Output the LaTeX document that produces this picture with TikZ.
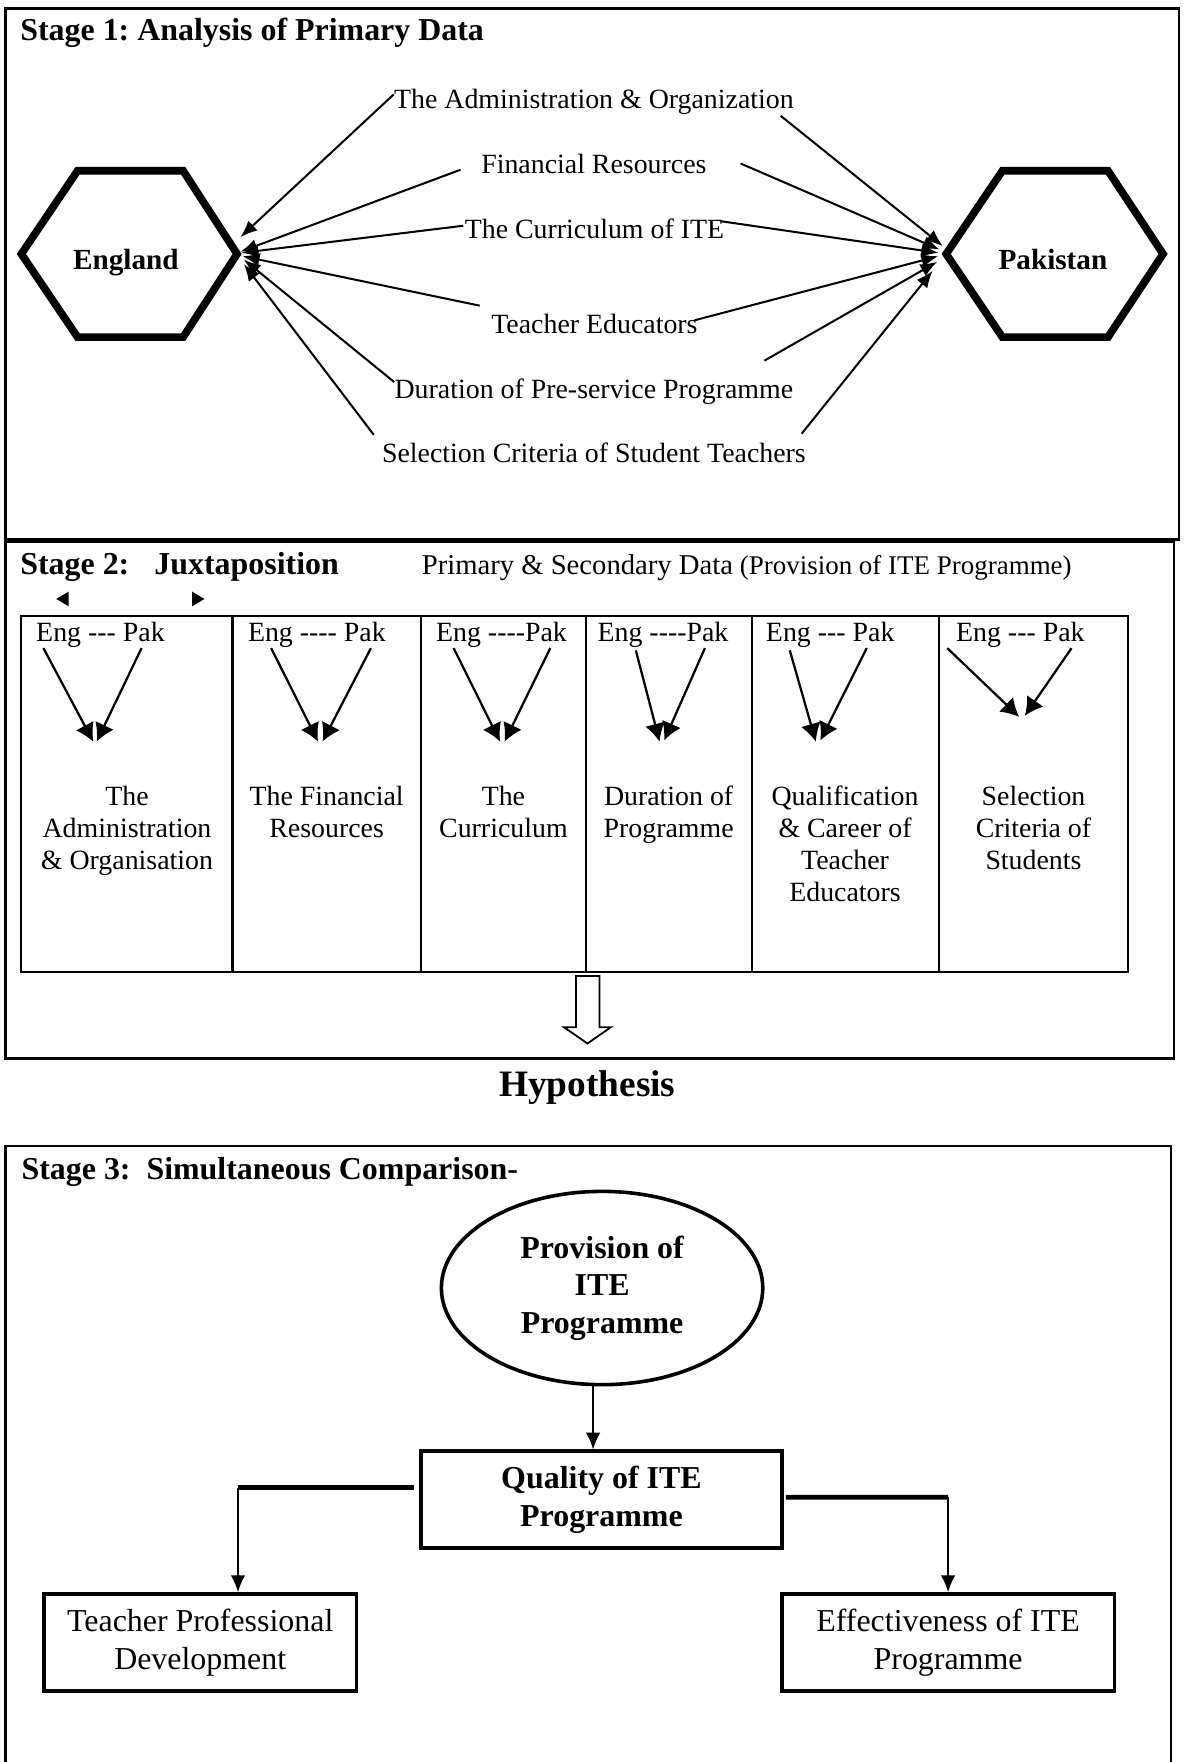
\documentclass[tikz,border=0pt]{standalone}
\usepackage{fontspec}
\setmainfont{Liberation Serif}
\usetikzlibrary{arrows.meta,shapes.geometric,calc}
\newcommand{\lblfont}{\fontsize{12.4}{14.25}\selectfont}
\newcommand{\hdfont}{\fontsize{14.2}{16.75}\selectfont\bfseries}
\begin{document}
\frenchspacing
\begin{tikzpicture}[x=0.5pt,y=-0.5pt,
  stageframe/.style={draw=black,line width=1pt},
  hexa/.style={draw=black,line width=3.4pt,line join=miter,miter limit=10},
  heading/.style={font=\hdfont,inner sep=0pt,anchor=base west},
  lbl/.style={font=\lblfont,inner sep=0pt,anchor=base},
  country/.style={font=\fontsize{13}{15}\selectfont\bfseries,inner sep=0pt,anchor=base},
  srcarrow/.style={line width=0.9pt,-{Latex[length=7.5pt,width=6pt]}},
  vpair/.style={line width=1pt,-{Latex[length=8pt,width=9pt]}},
  cellhead/.style={font=\lblfont,inner sep=0pt,anchor=base},
  celltext/.style={font=\lblfont,inner sep=0pt,anchor=north,align=center},
  rbox/.style={draw=black,line width=1.6pt,inner sep=0pt,align=center},
  dnarrow/.style={line width=0.7pt,-{Latex[length=7.5pt,width=6.5pt]}},
  thickbar/.style={line width=2.2pt},
]
\useasboundingbox (0,0) rectangle (1054,1568);

% ---------------- Stage 1 ----------------
\draw[stageframe] (5,7.5) rectangle (1049,480);
\node[heading] (s1) at (17.7,36) {Stage 1: Analysis of Primary Data};

\draw[hexa] (19,226) -- (69,152) -- (163,152) -- (211,226) -- (163,300) -- (69,300) -- cycle;
\draw[hexa] (842,226) -- (892,152) -- (986,152) -- (1035,226) -- (986,300) -- (892,300) -- cycle;
\node[country] (eng) at (112,240) {England};
\node[country] (pak) at (937,240) {Pakistan};
\coordinate (engtip) at (211,226);
\coordinate (paktip) at (842,226);

\node[lbl] (adm) at (528.5,97) {The Administration \& Organization};
\node[lbl] (fin) at (528.5,154) {Financial Resources};
\node[lbl] (cur) at (529,212) {The Curriculum of ITE};
\node[lbl] (ted) at (529,297) {Teacher Educators};
\node[lbl] (dur) at (528.5,355) {Duration of Pre-service Programme};
\node[lbl] (sel) at (528.5,412) {Selection Criteria of Student Teachers};

% arrows towards England
\draw[srcarrow] ($(adm.west)+(0,-7)$) -- ($(engtip)+(3,-15)$);
\draw[srcarrow] ($(fin.west)+(-18,5.5)$) -- ($(engtip)+(3,-2)$);
\draw[srcarrow] ($(cur.west)+(-1,-2.5)$) -- ($(engtip)+(4,-1)$);
\draw[srcarrow] ($(ted.west)+(-10,-16.5)$) -- ($(engtip)+(5,2)$);
\draw[srcarrow] ($(dur.west)+(0,-9)$) -- ($(engtip)+(6,5)$);
\draw[srcarrow] ($(sel.west)+(-7,-16.5)$) -- ($(engtip)+(6,9)$);
% arrows towards Pakistan
\draw[srcarrow] ($(adm.east)+(-12,12)$) -- ($(paktip)+(-3,-7)$);
\draw[srcarrow] ($(fin.east)+(30,0)$) -- ($(paktip)+(-6,-4)$);
\draw[srcarrow] ($(cur.east)+(-3,-6.5)$) -- ($(paktip)+(-7,-1)$);
\draw[srcarrow] ($(ted.east)+(-3,-3.5)$) -- ($(paktip)+(-7,2)$);
\draw[srcarrow] ($(dur.east)+(-26,-28)$) -- ($(paktip)+(-8,7)$);
\draw[srcarrow] ($(sel.east)+(-4,-17.5)$) -- ($(paktip)+(-12,15)$);

% ---------------- Stage 2 ----------------
\draw[stageframe] (5,482) rectangle (1045,942);
\node[heading] (s2) at (17.7,511) {Stage 2:};
\node[heading] (jux) at (137,511) {Juxtaposition};
\node[font=\fontsize{12.75}{15}\selectfont,inner sep=0pt,anchor=base west] (psd) at (375,511) {Primary \& Secondary Data};
\node[font=\fontsize{12}{14}\selectfont,inner sep=0pt,anchor=base west] (prov) at (658,511) {(Provision of ITE Programme)};
\fill (50,533) -- (61,526.5) -- (61,539.5) -- cycle;
\fill (182,533) -- (171,526.5) -- (171,539.5) -- cycle;

\draw[stageframe] (19,548) rectangle (1004,865);
\foreach \x in {207,374.5,521.5,669,835.5} \draw[stageframe] (\x,548) -- (\x,865);

\node[cellhead] (h1) at (89.4,571) {Eng -{}-{}- Pak};
\node[cellhead] (h2) at (282,571) {Eng -{}-{}-{}- Pak};
\node[cellhead] (h3) at (446.3,571) {Eng -{}-{}-{}-Pak};
\node[cellhead] (h4) at (590,571) {Eng -{}-{}-{}-Pak};
\node[cellhead] (h5) at (738.8,571) {Eng -{}-{}- Pak};
\node[cellhead] (h6) at (908,571) {Eng -{}-{}- Pak};

\coordinate (m1) at (84.5,660);
\coordinate (m2) at (285,660);
\coordinate (m3) at (447,660);
\coordinate (m4) at (589,660);
\coordinate (m5) at (728,660);
\coordinate (m6) at (909.5,638);
\draw[vpair] ($(h1.south west)+(6.8,0)$) -- ($(m1)+(-1.5,0)$);
\draw[vpair] ($(h1.south east)+(-21,0)$) -- ($(m1)+(1.5,0)$);
\draw[vpair] ($(h2.south west)+(21,0)$) -- ($(m2)+(-2,0)$);
\draw[vpair] ($(h2.south east)+(-13.6,0)$) -- ($(m2)+(2,0)$);
\draw[vpair] ($(h3.south west)+(16,0)$) -- ($(m3)+(-2,0)$);
\draw[vpair] ($(h3.south east)+(-15.2,0)$) -- ($(m3)+(2,0)$);
\draw[vpair] ($(h4.south west)+(34.4,2)$) -- ($(m4)+(-2,0)$);
\draw[vpair] ($(h4.south east)+(-21.3,0)$) -- ($(m4)+(2,-1)$);
\draw[vpair] ($(h5.south west)+(21.6,2)$) -- ($(m5)+(-2,0)$);
\draw[vpair] ($(h5.south east)+(-25,0)$) -- ($(m5)+(2,-1)$);
\draw[vpair] ($(h6.south west)+(-7.5,0)$) -- ($(m6)+(-2.5,0)$);
\draw[vpair] ($(h6.south east)+(-12,0)$) -- ($(m6)+(2.5,-1)$);

\node[celltext] (c1) at (113,699) {The\\Administration\\\& Organisation};
\node[celltext] (c2) at (290.7,699) {The Financial\\Resources};
\node[celltext] (c3) at (448,699) {The\\Curriculum};
\node[celltext] (c4) at (595,699) {Duration of\\Programme};
\node[celltext] (c5) at (752,699) {Qualification\\\& Career of\\Teacher\\Educators};
\node[celltext] (c6) at (919.7,699) {Selection\\Criteria of\\Students};

% hollow block arrow
\draw[line width=0.8pt,line join=miter] (512.5,868.6) -- (533.5,868.6) -- (533.5,914.2)
  -- (543.5,914.2) -- (522.8,928.6) -- (502,914.2) -- (512.5,914.2) -- cycle;

\node[font=\fontsize{16.6}{19}\selectfont\bfseries,inner sep=0pt,anchor=base] (hyp) at (522.7,976) {Hypothesis};

% ---------------- Stage 3 ----------------
\draw[stageframe] (5,1590) -- (5,1020) -- (1042,1020) -- (1042,1590);
\node[heading] (s3) at (18.8,1049.5) {Stage 3:\ \ Simultaneous Comparison-};

\node[draw=black,line width=1.6pt,ellipse,minimum width=143pt,minimum height=86pt,
      inner sep=0pt,align=center,font=\hdfont] (provn) at (535.8,1146.2) {Provision of\\ITE\\Programme};
\node[rbox,font=\hdfont,minimum width=160.6pt,minimum height=43.2pt] (qual) at (535.2,1334.6) {Quality of ITE\\Programme};
\node[rbox,font=\fontsize{14.2}{16.75}\selectfont,minimum width=139.2pt,minimum height=43.3pt] (tpd) at (178.2,1461.7) {Teacher Professional\\Development};
\node[rbox,font=\fontsize{14.2}{16.75}\selectfont,minimum width=147.9pt,minimum height=43.3pt] (eff) at (843.7,1461.7) {Effectiveness of ITE\\Programme};

\coordinate (pe) at ([xshift=-4pt]provn.south);
\draw[dnarrow] (pe) -- (pe |- qual.north);

\coordinate (lk) at (211.8,1324);
\draw[thickbar] ($(qual.west)+(-5,-10.6)$) -- (lk);
\draw[dnarrow] (lk) -- (lk |- tpd.north);

\coordinate (rk) at (843.7,1332.4);
\draw[thickbar] ($(qual.east)+(2,-2.2)$) -- (rk);
\draw[dnarrow] (rk) -- (eff.north);
\end{tikzpicture}
\end{document}
